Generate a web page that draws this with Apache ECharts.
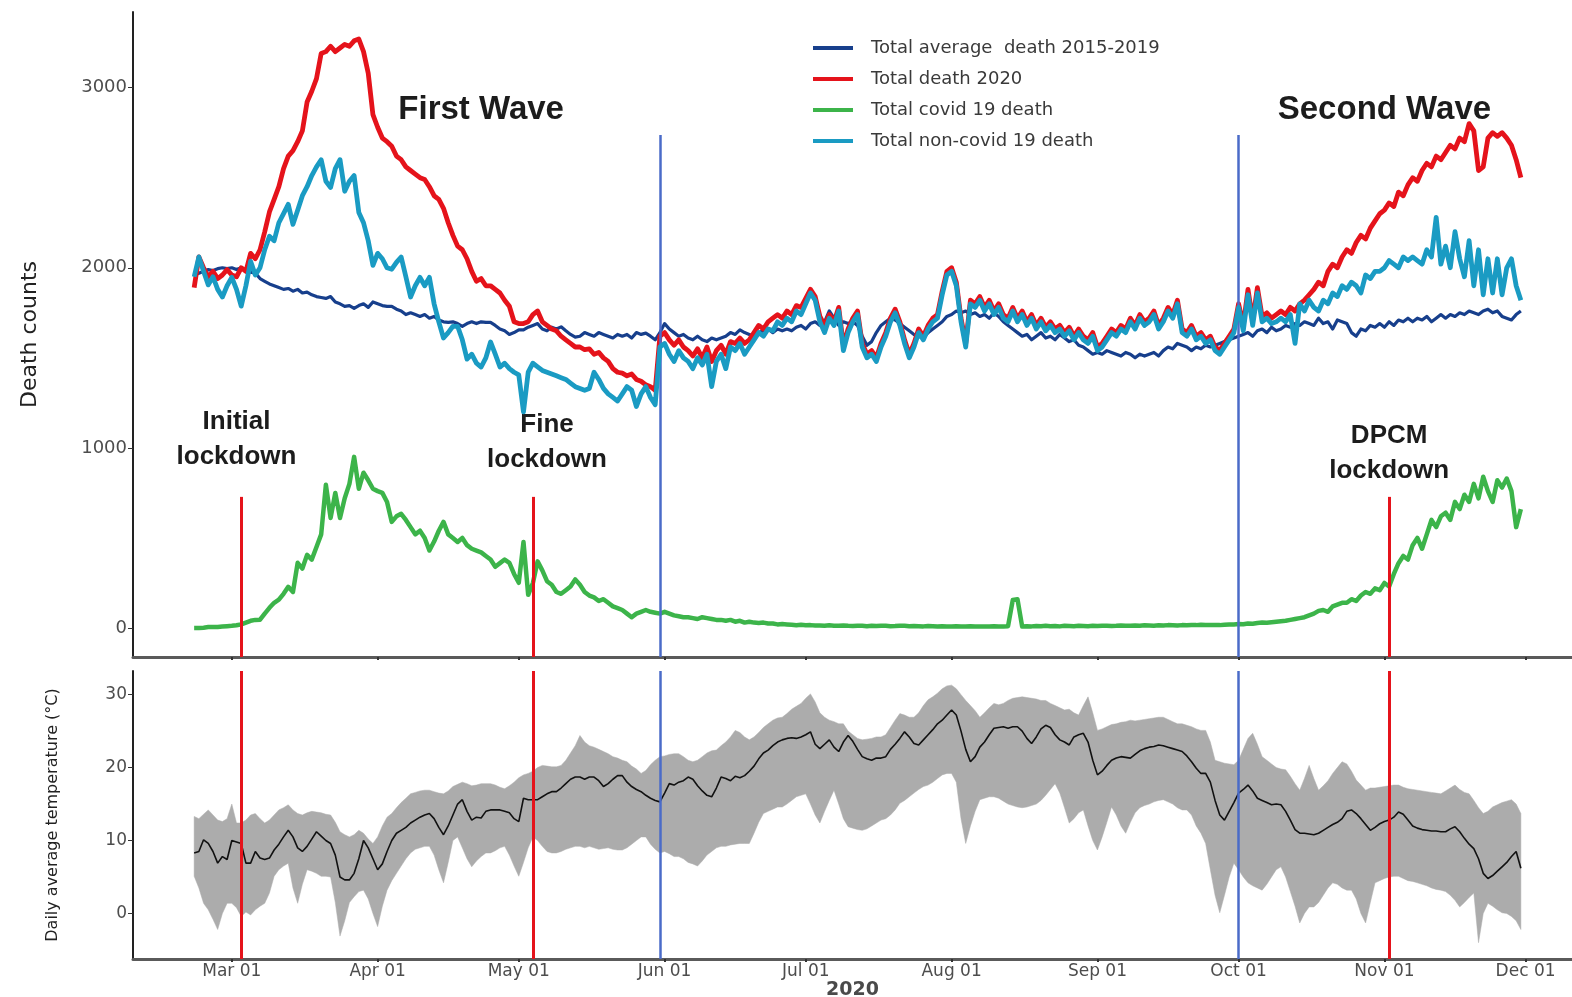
<!DOCTYPE html>
<html>
<head>
<meta charset="utf-8">
<title>Daily deaths and temperature, 2020</title>
<script src="https://cdn.jsdelivr.net/npm/echarts@6/dist/echarts.min.js"></script>
<style>
  html, body { margin: 0; padding: 0; background: #ffffff; }
  #chart { width: 1572px; height: 997px; }
</style>
</head>
<body>
<div id="chart"></div>
<script>
// First day of the daily series (one value per day up to 30 Nov 2020)
const startDate = '2020-02-22';

// Total average death 2015-2019
const avgDeath = [
  1960, 1970, 1980, 1990, 1985, 1995, 2000,
  1995, 2000, 1990, 2000, 1985, 1975, 1970,
  1940, 1925, 1910, 1900, 1890, 1880, 1885,
  1870, 1880, 1860, 1865, 1850, 1840, 1835,
  1830, 1840, 1810, 1800, 1786, 1790, 1775,
  1790, 1800, 1780, 1810, 1800, 1790, 1786,
  1786, 1770, 1760, 1740, 1750, 1740, 1730,
  1740, 1720, 1730, 1710, 1700, 1697, 1700,
  1690, 1675, 1690, 1700, 1690, 1700, 1697,
  1697, 1680, 1660, 1650, 1630, 1640, 1655,
  1655, 1670, 1680, 1690, 1660, 1650, 1670,
  1660, 1672, 1650, 1630, 1615, 1620, 1640,
  1630, 1620, 1640, 1630, 1620, 1610, 1630,
  1620, 1630, 1610, 1640, 1630, 1637, 1620,
  1600, 1640, 1690, 1660, 1640, 1620, 1630,
  1610, 1600, 1620, 1600, 1590, 1610, 1600,
  1610, 1620, 1640, 1630, 1655, 1640, 1630,
  1620, 1640, 1650, 1660, 1640, 1660, 1650,
  1660, 1650, 1670, 1680, 1660, 1690, 1700,
  1680, 1700, 1760, 1720, 1680, 1700, 1690,
  1700, 1680, 1620, 1570, 1590, 1640, 1680,
  1700, 1720, 1710, 1690, 1670, 1650, 1630,
  1620, 1610, 1640, 1660, 1680, 1700, 1730,
  1740, 1760, 1750, 1760, 1740, 1750, 1730,
  1740, 1720, 1750, 1730, 1700, 1680, 1660,
  1640, 1620, 1630, 1600, 1620, 1640, 1610,
  1620, 1600, 1630, 1610, 1590, 1600, 1570,
  1560, 1540, 1520, 1530, 1520, 1540, 1530,
  1520, 1510, 1530, 1520, 1500, 1520, 1510,
  1520, 1530, 1510, 1540, 1560, 1550, 1580,
  1570, 1560, 1540, 1560, 1550, 1570, 1560,
  1570, 1580, 1590, 1600, 1610, 1620, 1630,
  1640, 1620, 1650, 1660, 1640, 1670, 1650,
  1660, 1680, 1670, 1690, 1680, 1700, 1690,
  1680, 1720, 1690, 1700, 1660, 1710, 1700,
  1690, 1640, 1620, 1660, 1650, 1680, 1670,
  1690, 1670, 1700, 1680, 1710, 1700, 1720,
  1700, 1720, 1710, 1730, 1700, 1720, 1740,
  1720, 1740, 1730, 1750, 1740, 1760, 1750,
  1740, 1760, 1770, 1750, 1760, 1730, 1720,
  1710, 1740, 1760
];

// Total death 2020
const totalDeath = [
  1890, 2060, 2000, 1950, 1980, 1940, 1960,
  1990, 1960, 1950, 2000, 1980, 2080, 2050,
  2100, 2200, 2310, 2380, 2450, 2550, 2620,
  2650, 2700, 2760, 2920, 2980, 3050, 3190,
  3200, 3230, 3200, 3220, 3240, 3230, 3260,
  3270, 3200, 3080, 2850, 2780, 2720, 2700,
  2675, 2620, 2600, 2560, 2540, 2520, 2500,
  2490, 2450, 2400, 2380, 2330, 2250, 2180,
  2120, 2100, 2050, 1980, 1925, 1940, 1900,
  1900, 1880, 1860, 1820, 1786, 1700, 1690,
  1690, 1700, 1740, 1760, 1700, 1680, 1660,
  1650, 1620, 1600, 1580, 1560, 1560, 1545,
  1550, 1520, 1530, 1500, 1480, 1440, 1420,
  1415, 1400, 1410, 1380, 1370, 1350, 1340,
  1320, 1620, 1640, 1600, 1570, 1600, 1560,
  1540, 1510, 1550, 1500, 1560, 1480, 1540,
  1570, 1520, 1590, 1580, 1610, 1580, 1600,
  1640, 1680, 1660, 1700, 1720, 1740, 1720,
  1760, 1740, 1790, 1780, 1830, 1880, 1840,
  1730, 1680, 1740, 1700, 1780, 1570, 1660,
  1720, 1760, 1580, 1520, 1540, 1500, 1580,
  1640, 1720, 1770, 1700, 1600, 1520, 1580,
  1660, 1620, 1680, 1720, 1740, 1870, 1980,
  2000, 1920, 1720, 1580, 1820, 1800, 1840,
  1780, 1820, 1760, 1800, 1740, 1720, 1780,
  1720, 1760, 1700, 1740, 1680, 1720, 1670,
  1700, 1660, 1680, 1640, 1670, 1620, 1660,
  1620, 1600, 1640, 1560, 1580, 1620, 1660,
  1640, 1680, 1660, 1720, 1680, 1740, 1700,
  1720, 1760, 1680, 1720, 1780, 1740, 1820,
  1660, 1640, 1680, 1620, 1640, 1600, 1620,
  1560, 1540, 1580, 1620, 1660, 1800, 1680,
  1880, 1710, 1890, 1730, 1750, 1720, 1740,
  1760, 1740, 1780, 1760, 1800, 1820, 1850,
  1880, 1920, 1900, 1980, 2020, 2000, 2060,
  2100, 2080, 2140, 2180, 2160, 2220, 2260,
  2300, 2320, 2360, 2340, 2420, 2400, 2460,
  2500, 2480, 2540, 2580, 2560, 2620, 2600,
  2640, 2680, 2660, 2720, 2700, 2800, 2760,
  2540, 2560, 2720, 2750, 2730, 2750, 2720,
  2680, 2600, 2500
];

// Total covid 19 death
const covidDeath = [
  0, 0, 2, 5, 5, 6, 8,
  10, 12, 15, 20, 30, 40, 45,
  46, 80, 112, 140, 157, 190, 229,
  200, 362, 330, 406, 380, 450, 520,
  795, 611, 750, 611, 720, 800, 950,
  773, 862, 820, 773, 760, 750, 700,
  589, 620, 634, 600, 560, 520, 540,
  500, 430, 480, 540, 589, 520, 500,
  478, 500, 460, 440, 430, 420, 400,
  380, 340, 360, 380, 362, 300, 251,
  478, 184, 250, 370, 320, 260, 240,
  200, 190, 210, 230, 270, 240, 200,
  180, 170, 150, 160, 140, 120, 110,
  100, 80, 60, 80, 90, 100, 90,
  85, 80, 90, 80, 70, 65, 60,
  60, 55, 50, 60, 55, 50, 45,
  45, 40, 45, 35, 40, 30, 35,
  30, 28, 30, 25, 25, 20, 22,
  20, 18, 15, 18, 15, 16, 14,
  14, 12, 15, 13, 12, 14, 12,
  11, 13, 12, 10, 12, 11, 13,
  12, 10, 11, 13, 12, 10, 11,
  10, 9, 11, 10, 8, 10, 9,
  8, 10, 9, 8, 10, 9, 8,
  9, 8, 10, 8, 9, 10, 155,
  160, 8, 10, 9, 11, 10, 12,
  10, 11, 9, 12, 11, 10, 12,
  11, 10, 12, 11, 13, 12, 11,
  12, 14, 13, 12, 14, 13, 15,
  14, 13, 15, 14, 16, 15, 14,
  16, 15, 17, 16, 18, 17, 16,
  17, 16, 18, 19, 20, 22, 21,
  25, 24, 28, 30, 29, 32, 35,
  38, 40, 45, 50, 55, 60, 70,
  80, 95, 100, 90, 120, 130, 140,
  140, 160, 150, 180, 200, 190, 220,
  210, 250, 230, 300, 360, 400, 380,
  460, 500, 440, 520, 600, 560, 620,
  640, 600, 700, 660, 740, 700, 800,
  720, 840, 760, 700, 820, 780, 830,
  760, 560, 660
];

// Total non-covid 19 death
const nonCovidDeath = [
  1950, 2060, 1980, 1905, 1950, 1880, 1838,
  1900, 1947, 1880, 1787, 1900, 2036, 1960,
  2000, 2100, 2175, 2150, 2250, 2300, 2352,
  2241, 2320, 2400, 2450, 2512, 2560, 2600,
  2480, 2446, 2550, 2600, 2425, 2480, 2512,
  2307, 2250, 2150, 2013, 2080, 2050, 2000,
  1992, 2030, 2060, 1950, 1838, 1900, 1947,
  1900, 1947, 1800, 1700, 1610, 1640, 1675,
  1675, 1600, 1493, 1520, 1470, 1449, 1500,
  1588, 1520, 1449, 1470, 1440, 1420, 1405,
  1200, 1420, 1470, 1450, 1430, 1420, 1410,
  1400, 1390, 1380, 1360, 1340, 1330, 1320,
  1330, 1420, 1380, 1330, 1300, 1280, 1260,
  1300, 1340, 1320, 1230, 1300, 1340, 1280,
  1240, 1560, 1580, 1520, 1480, 1540, 1500,
  1480, 1440, 1500, 1460, 1520, 1340, 1480,
  1520, 1440, 1560, 1540, 1580, 1520, 1560,
  1600, 1640, 1620, 1660, 1650, 1700, 1680,
  1720, 1700, 1760, 1740, 1800, 1860, 1820,
  1700, 1640, 1720, 1680, 1760, 1540, 1640,
  1700, 1740, 1560, 1500, 1520, 1480, 1560,
  1620, 1700, 1750, 1680, 1580, 1500, 1560,
  1640, 1600, 1660, 1700, 1720, 1850, 1960,
  1980, 1900, 1700, 1560, 1800, 1780, 1820,
  1760, 1800, 1740, 1780, 1720, 1700, 1760,
  1700, 1740, 1680, 1720, 1660, 1700, 1650,
  1680, 1640, 1660, 1620, 1650, 1600, 1640,
  1600, 1580, 1620, 1540, 1560, 1600, 1640,
  1620, 1660, 1640, 1700, 1660, 1720, 1680,
  1700, 1740, 1660, 1700, 1760, 1720, 1800,
  1640, 1620, 1660, 1600, 1620, 1580, 1600,
  1540, 1520, 1560, 1600, 1640, 1780, 1650,
  1850, 1680, 1860, 1700, 1720, 1690, 1700,
  1720, 1700, 1740, 1580, 1800, 1760, 1820,
  1780, 1760, 1820, 1800, 1860, 1840, 1900,
  1880, 1920, 1900, 1860, 1960, 1940, 1980,
  1980, 2000, 2040, 2020, 2000, 2060, 2040,
  2060, 2040, 2020, 2100, 2060, 2280, 2020,
  2120, 2000, 2200, 2050, 1950, 2150, 1900,
  2100, 1850, 2050, 1860, 2050, 1850, 2000,
  2050, 1900, 1820
];

// Daily average temperature (°C)
const tempMean = [
  8.3, 8.5, 10.1, 9.6, 8.5, 6.9, 7.8,
  7.4, 10.0, 9.8, 9.6, 6.9, 6.9, 8.5,
  7.6, 7.4, 7.6, 8.7, 9.5, 10.5, 11.4,
  10.5, 9.0, 8.5, 9.2, 10.2, 11.2, 10.6,
  10.0, 9.6, 8.0, 5.0, 4.6, 4.6, 5.5,
  7.5, 10.0, 9.0, 7.5, 6.0, 6.8, 8.5,
  10.0, 11.0, 11.4, 11.8, 12.4, 12.8, 13.2,
  13.5, 13.7, 13.0, 11.8, 10.8, 12.0, 13.5,
  15.0, 15.6, 14.0, 12.8, 13.2, 13.1, 14.0,
  14.2, 14.2, 14.2, 14.0, 13.8, 13.0, 12.6,
  15.8, 15.6, 15.6, 15.6, 16.0, 16.4, 16.7,
  16.7, 17.2, 17.8, 18.4, 18.7, 18.7, 18.4,
  18.7, 18.7, 18.2, 17.4, 17.8, 18.4, 18.9,
  18.9, 18.0, 17.4, 17.0, 16.7, 16.2, 15.8,
  15.5, 15.3, 16.5, 17.8, 17.6, 18.0, 18.2,
  18.7, 18.4, 17.5, 16.8, 16.2, 16.0, 17.2,
  18.7, 18.5, 18.2, 18.8, 18.6, 18.9, 19.5,
  20.2, 21.2, 22.0, 22.4, 23.0, 23.5, 23.8,
  24.0, 24.1, 24.0, 24.2, 24.5, 24.9, 23.2,
  22.6, 23.2, 23.8, 22.8, 22.2, 23.5, 24.4,
  23.6, 22.5, 21.5, 21.2, 21.0, 21.3, 21.3,
  21.5, 22.5, 23.2, 24.0, 24.9, 24.2, 23.3,
  23.1, 23.8, 24.5, 25.2, 26.0, 26.5, 27.2,
  27.9, 27.2, 25.0, 22.5, 20.8, 21.5, 22.8,
  23.5, 24.5, 25.4, 25.5, 25.6, 25.4, 25.6,
  25.6, 25.0, 24.0, 23.3, 24.2, 25.3, 25.8,
  25.5, 24.5, 23.8, 23.5, 23.1, 24.2, 24.5,
  24.7, 23.5, 21.0, 19.0, 19.5, 20.3, 21.0,
  21.3, 21.5, 21.4, 21.3, 21.8, 22.3, 22.6,
  22.8, 22.9, 23.1, 23.0, 22.8, 22.6, 22.4,
  22.2, 21.6, 20.8, 19.9, 19.2, 19.2, 18.0,
  15.5, 13.5, 12.8, 14.0, 15.2, 16.5, 17.0,
  17.6, 16.8, 15.8, 15.5, 15.2, 14.9, 15.0,
  14.9, 14.0, 12.8, 11.5, 11.0, 11.0, 10.9,
  10.8, 11.0, 11.4, 11.8, 12.2, 12.5, 13.0,
  14.0, 14.2, 13.7, 13.0, 12.2, 11.4, 11.8,
  12.3, 12.6, 12.8, 13.2, 13.9, 13.6, 12.8,
  12.0, 11.7, 11.5, 11.4, 11.3, 11.3, 11.2,
  11.2, 11.6, 11.9, 11.2, 10.3, 9.5, 8.9,
  7.5, 5.5, 4.8, 5.2, 5.8, 6.4, 7.0,
  7.8, 8.5, 6.2
];

// Daily maximum temperature (°C), upper edge of the band
const tempMax = [
  13.3, 13.0, 13.6, 14.2, 13.5, 12.8, 12.6,
  13.0, 15.0, 12.4, 12.4, 12.8, 13.5, 13.7,
  13.0, 12.4, 12.8, 13.5, 14.2, 14.5, 14.9,
  14.2, 13.7, 13.5, 13.8, 14.0, 13.9, 13.8,
  13.6, 13.5, 12.5, 11.2, 10.8, 10.5, 10.8,
  11.4, 11.0, 10.2, 9.6, 10.5, 12.0, 13.2,
  13.7, 14.5, 15.2, 15.8, 16.4, 16.6, 16.8,
  16.9, 16.9, 16.7, 16.5, 16.4, 16.8, 17.4,
  17.7, 18.0, 17.8, 17.5, 17.6, 17.8, 17.8,
  17.8, 17.6, 17.3, 17.1, 17.5, 18.0, 18.6,
  19.0, 19.2, 19.5, 20.0, 20.3, 20.2, 20.1,
  20.1, 20.3, 21.0, 22.0, 23.0, 24.4, 23.5,
  23.0, 22.8, 22.5, 22.2, 21.9, 21.5, 21.3,
  21.0, 20.8, 20.2, 19.8, 19.2, 19.6, 20.4,
  21.0, 21.5, 21.6, 21.8, 21.9, 21.9, 21.5,
  21.0, 20.8, 21.0, 21.5, 22.0, 22.3, 22.4,
  23.0, 23.5, 24.2, 25.1, 24.8, 24.2, 23.8,
  24.2, 24.8, 25.5, 26.0, 26.5, 26.8, 26.9,
  27.4, 28.0, 28.4, 28.8, 29.5, 30.1, 29.0,
  27.5, 26.9, 26.5, 26.3, 26.0, 26.0, 25.0,
  24.5, 24.0, 23.8, 23.9, 24.0, 24.2, 24.2,
  24.5, 25.5, 26.5, 27.4, 27.2, 26.9, 26.9,
  27.5, 28.5, 29.3, 29.7, 30.2, 30.8, 31.2,
  31.3, 30.8, 30.0, 29.2, 28.5, 27.8, 26.9,
  27.5, 28.2, 28.8, 28.6, 28.8, 29.2, 29.5,
  29.6, 29.7, 29.6, 29.5, 29.4, 29.2, 29.2,
  28.8, 28.5, 28.2, 27.9, 28.0, 27.5, 27.2,
  28.5, 29.7, 27.5, 25.1, 25.3, 25.6, 25.9,
  26.0, 26.2, 26.3, 26.5, 26.4, 26.5, 26.6,
  26.7, 26.8, 26.9, 26.9, 26.6, 26.3, 26.0,
  26.0, 25.8, 25.6, 25.3, 25.1, 25.1, 23.5,
  21.0, 20.8, 20.6, 20.5, 20.4, 21.0, 22.5,
  24.0, 24.7, 23.2, 21.5, 21.0, 20.5, 20.0,
  19.8, 19.7, 18.8, 17.8, 16.9, 18.5, 20.3,
  18.5, 16.9, 17.5, 18.2, 19.2, 20.0, 20.8,
  20.5, 19.5, 18.3, 17.6, 16.9, 17.2, 17.2,
  17.3, 17.4, 17.5, 17.6, 17.6, 17.3, 17.1,
  17.0, 16.9, 16.8, 16.7, 16.6, 16.5, 16.4,
  16.8, 17.2, 17.6, 17.0, 16.6, 16.4, 15.5,
  14.5, 13.7, 14.0, 14.6, 14.9, 15.2, 15.4,
  15.6, 15.0, 13.7
];

// Daily minimum temperature (°C), lower edge of the band
const tempMin = [
  5.1, 3.5, 1.4, 0.5, -0.8, -2.2, 0.0,
  1.4, 1.4, 0.8, -0.4, 0.2, -0.2, 0.5,
  1.0, 1.4, 2.8, 5.1, 6.0, 6.5, 6.9,
  3.5, 1.4, 4.0, 6.0, 5.8, 5.5, 5.1,
  5.1, 5.0, 1.5, -3.1, -1.0, 1.5, 2.3,
  3.0, 3.2, 2.0, 0.0, -1.8, 1.0, 3.2,
  4.5, 5.5, 6.5, 7.5, 8.3, 8.8, 9.0,
  9.2, 9.2, 8.0, 6.0, 4.2, 7.0, 10.0,
  10.5, 9.0, 7.5, 6.4, 7.2, 7.8, 8.3,
  8.3, 8.6, 9.0, 9.2, 8.0, 6.5, 5.1,
  7.0, 9.0, 10.5, 10.0, 9.2, 8.5, 8.3,
  8.3, 8.5, 8.8, 9.0, 9.2, 9.2, 9.0,
  9.2, 9.0, 8.8, 8.9, 9.0, 8.8, 8.7,
  8.7, 9.0, 9.5, 10.0, 10.5, 10.5, 9.5,
  8.8, 8.3, 8.5, 8.2, 7.8, 7.8, 7.5,
  7.0, 6.8, 6.5, 7.2, 8.0, 8.5, 9.0,
  9.2, 9.2, 9.4, 9.5, 9.6, 9.6, 9.6,
  11.0, 12.5, 13.7, 14.0, 14.3, 14.6, 14.6,
  15.0, 15.5, 16.0, 16.2, 16.4, 15.0, 13.5,
  12.4, 14.0, 15.5, 16.9, 15.0, 13.0, 11.9,
  11.7, 11.5, 11.4, 11.6, 12.0, 12.4, 12.8,
  13.0, 13.5, 14.2, 15.1, 15.5, 16.0, 16.5,
  17.0, 17.4, 17.6, 18.0, 18.5, 19.0, 19.2,
  19.2, 18.0, 13.0, 9.6, 12.0, 14.0, 15.6,
  15.8, 16.0, 16.0, 15.8, 15.4, 15.0, 14.8,
  14.6, 14.5, 14.6, 14.8, 15.0, 15.5, 16.2,
  17.0, 17.8, 16.5, 14.5, 12.4, 13.0, 13.8,
  14.2, 12.0, 10.0, 8.7, 10.5, 12.5, 14.6,
  13.5, 12.0, 11.0, 12.5, 13.8, 14.5, 14.8,
  15.0, 15.3, 15.5, 15.6, 15.3, 15.0, 14.5,
  14.2, 14.2, 13.5, 12.0, 11.0, 9.6, 6.0,
  2.5, 0.1, 2.5, 5.0, 6.9, 6.0, 5.0,
  4.2, 3.8, 3.5, 3.2, 4.0, 5.0, 6.0,
  6.4, 5.0, 3.0, 1.0, -1.3, 0.0, 0.9,
  0.9, 1.5, 2.5, 3.5, 4.2, 4.0, 3.5,
  3.2, 3.2, 2.0, 0.0, -1.3, 1.5, 4.2,
  4.5, 4.8, 5.0, 5.1, 5.1, 4.8, 4.5,
  4.4, 4.2, 4.0, 3.8, 3.5, 3.3, 3.2,
  3.0, 2.5, 1.8, 0.9, 1.5, 2.2, 2.8,
  -4.0, 0.0, 1.4, 1.0, 0.5, 0.1, 0.0,
  -0.4, -1.0, -2.2
];

// Month ticks on the date axis
const monthTicks = ['2020-03-01', '2020-04-01', '2020-05-01', '2020-06-01', '2020-07-01',
  '2020-08-01', '2020-09-01', '2020-10-01', '2020-11-01', '2020-12-01'];
const deathTicks = [0, 1000, 2000, 3000];
const tempTicks = [0, 10, 20, 30];

// Restriction dates (red) and wave boundaries (blue)
const lockdowns = [
  { date: '2020-03-03', label: 'Initial\nlockdown', at: '2020-03-02', level: 1047 },
  { date: '2020-05-04', label: 'Fine\nlockdown', at: '2020-05-07', level: 1030 },
  { date: '2020-11-02', label: 'DPCM\nlockdown', at: '2020-11-02', level: 972 }
];
const waveBounds = ['2020-05-31', '2020-10-01'];
const waveTitles = [
  { label: 'First Wave', at: '2020-04-23', level: 2875 },
  { label: 'Second Wave', at: '2020-11-01', level: 2875 }
];

const seriesNames = ['Total average  death 2015-2019', 'Total death 2020',
  'Total covid 19 death', 'Total non-covid 19 death'];

const DAY = 86400000;
const t0 = Date.parse(startDate);
const ts = s => Date.parse(s);
const dayOf = i => t0 + i * DAY;
const pairs = arr => arr.map((v, i) => [dayOf(i), v]);

const MON = ['Jan', 'Feb', 'Mar', 'Apr', 'May', 'Jun', 'Jul', 'Aug', 'Sep', 'Oct', 'Nov', 'Dec'];
function fmtDate(v) {
  const d = new Date(v);
  return MON[d.getUTCMonth()] + ' ' + String(d.getUTCDate()).padStart(2, '0');
}

const tickTimes = monthTicks.map(ts);
const xMin = ts('2020-02-09');
const xMax = ts('2020-12-10') + 0.87 * DAY;
const deathMin = -161, deathMax = 3420;
const tempMinAxis = -6.24, tempMaxAxis = 33.24;

const RED = '#e5131b';
const BLUE_LINE = '#4a6bc8';
const BAND = '#acacac';

// vertical reference lines for the death panel
const topLines = [];
lockdowns.forEach(l => topLines.push([
  { coord: [ts(l.date), deathMin], lineStyle: { color: RED, width: 3, type: 'solid' } },
  { coord: [ts(l.date), 728] }
]));
waveBounds.forEach(d => topLines.push([
  { coord: [ts(d), deathMin], lineStyle: { color: BLUE_LINE, width: 2.5, type: 'solid' } },
  { coord: [ts(d), 2737] }
]));

// vertical reference lines for the temperature panel
const bottomLines = [];
lockdowns.forEach(l => bottomLines.push([
  { coord: [ts(l.date), tempMinAxis], lineStyle: { color: RED, width: 3, type: 'solid' } },
  { coord: [ts(l.date), tempMaxAxis] }
]));
waveBounds.forEach(d => bottomLines.push([
  { coord: [ts(d), tempMinAxis], lineStyle: { color: BLUE_LINE, width: 2.5, type: 'solid' } },
  { coord: [ts(d), tempMaxAxis] }
]));

const textMarks = [];
waveTitles.forEach(w => textMarks.push({
  coord: [ts(w.at), w.level], value: w.label,
  label: { fontSize: 33, lineHeight: 36 }
}));
lockdowns.forEach(l => textMarks.push({
  coord: [ts(l.at), l.level], value: l.label,
  label: { fontSize: 26, lineHeight: 35 }
}));

function lineSeries(name, data, color, width, z) {
  return {
    name, type: 'line', xAxisIndex: 0, yAxisIndex: 0,
    data: pairs(data), showSymbol: false, symbol: 'none',
    lineStyle: { color, width, join: 'round' }, itemStyle: { color },
    z, silent: true, animation: false
  };
}

// min-max temperature band as one polygon
const bandData = tempMin.map((v, i) => [dayOf(i), v, tempMax[i]]);
function renderBand(params, api) {
  if (params.dataIndex !== 0) return null;
  const upper = [], lower = [];
  for (let i = 0; i < bandData.length; i++) {
    upper.push(api.coord([bandData[i][0], bandData[i][2]]));
    lower.push(api.coord([bandData[i][0], bandData[i][1]]));
  }
  return {
    type: 'polygon',
    shape: { points: upper.concat(lower.reverse()) },
    style: { fill: BAND, stroke: BAND, lineWidth: 0.5 }
  };
}

const chart = echarts.init(document.getElementById('chart'), null, { renderer: 'canvas' });

chart.setOption({
  animation: false,
  backgroundColor: '#ffffff',
  grid: [
    { left: 133, right: 0, top: 12, height: 645, outerBoundsMode: 'none' },
    { left: 133, right: 0, top: 671, height: 288, outerBoundsMode: 'none' }
  ],
  legend: {
    data: seriesNames,
    orient: 'vertical', left: 808, top: 32,
    itemWidth: 40, itemHeight: 4, itemGap: 9, icon: 'rect',
    selectedMode: false,
    textStyle: { fontFamily: 'DejaVu Sans', fontSize: 18, lineHeight: 22, color: '#3a3a3a', padding: [0, 0, 0, 13] }
  },
  xAxis: [
    {
      type: 'value', gridIndex: 0, min: xMin, max: xMax,
      axisLine: { show: true, onZero: false, lineStyle: { color: '#5a5a5a', width: 3 } },
      axisTick: { show: true, customValues: tickTimes, length: 3, lineStyle: { color: '#333', width: 2 } },
      axisLabel: { show: false },
      splitLine: { show: false }
    },
    {
      type: 'value', gridIndex: 1, min: xMin, max: xMax,
      name: '2020', nameLocation: 'middle', nameGap: 19,
      nameTextStyle: { fontFamily: 'DejaVu Sans', fontSize: 19, fontWeight: 'bold', color: '#4a4a4a' },
      axisLine: { show: true, onZero: false, lineStyle: { color: '#5a5a5a', width: 3 } },
      axisTick: { show: true, customValues: tickTimes, length: 3, lineStyle: { color: '#333', width: 2 } },
      axisLabel: {
        customValues: tickTimes, formatter: fmtDate, margin: 4,
        fontFamily: 'DejaVu Sans', fontSize: 17, color: '#4d4d4d'
      },
      splitLine: { show: false }
    }
  ],
  yAxis: [
    {
      type: 'value', gridIndex: 0, min: deathMin, max: deathMax,
      name: 'Death counts', nameLocation: 'middle', nameGap: 92, nameRotate: 90,
      nameTextStyle: { fontFamily: 'DejaVu Sans', fontSize: 22, color: '#222' },
      axisLine: { show: true, lineStyle: { color: '#222', width: 2 } },
      axisTick: { show: true, customValues: deathTicks, length: 5, lineStyle: { color: '#333' } },
      axisLabel: {
        customValues: deathTicks, formatter: v => String(v), margin: 6,
        fontSize: 18, fontFamily: 'DejaVu Sans', color: '#4d4d4d'
      },
      splitLine: { show: false }
    },
    {
      type: 'value', gridIndex: 1, min: tempMinAxis, max: tempMaxAxis,
      name: 'Daily average temperature (°C)', nameLocation: 'middle', nameGap: 72, nameRotate: 90,
      nameTextStyle: { fontFamily: 'DejaVu Sans', fontSize: 16, color: '#222' },
      axisLine: { show: true, lineStyle: { color: '#222', width: 2 } },
      axisTick: { show: true, customValues: tempTicks, length: 5, lineStyle: { color: '#333' } },
      axisLabel: {
        customValues: tempTicks, formatter: v => String(v), margin: 6,
        fontSize: 17, fontFamily: 'DejaVu Sans', color: '#4d4d4d'
      },
      splitLine: { show: false }
    }
  ],
  series: [
    lineSeries(seriesNames[0], avgDeath, '#173f8c', 3.2, 2),
    lineSeries(seriesNames[1], totalDeath, RED, 4.8, 3),
    lineSeries(seriesNames[2], covidDeath, '#3cb44a', 4.5, 4),
    Object.assign(lineSeries(seriesNames[3], nonCovidDeath, '#1a9bc3', 4.8, 5), {
      markLine: {
        silent: true, symbol: ['none', 'none'], label: { show: false },
        emphasis: { disabled: true }, data: topLines, animation: false
      },
      markPoint: {
        silent: true, symbol: 'rect', symbolSize: 0,
        itemStyle: { color: 'transparent' },
        label: {
          show: true, position: 'inside', formatter: p => p.value,
          fontFamily: "'Liberation Sans', Arial, sans-serif", fontWeight: 'bold', color: '#1c1c1c'
        },
        data: textMarks, animation: false
      }
    }),
    {
      name: 'temperature range', type: 'custom', xAxisIndex: 1, yAxisIndex: 1,
      data: bandData, renderItem: renderBand, silent: true, z: 1,
      encode: { x: 0, y: [1, 2] }
    },
    {
      name: 'temperature mean', type: 'line', xAxisIndex: 1, yAxisIndex: 1,
      data: pairs(tempMean), showSymbol: false, symbol: 'none',
      lineStyle: { color: '#111', width: 1.6 }, silent: true, z: 3,
      markLine: {
        silent: true, symbol: ['none', 'none'], label: { show: false },
        emphasis: { disabled: true }, data: bottomLines, animation: false
      }
    }
  ]
});
</script>
</body>
</html>
